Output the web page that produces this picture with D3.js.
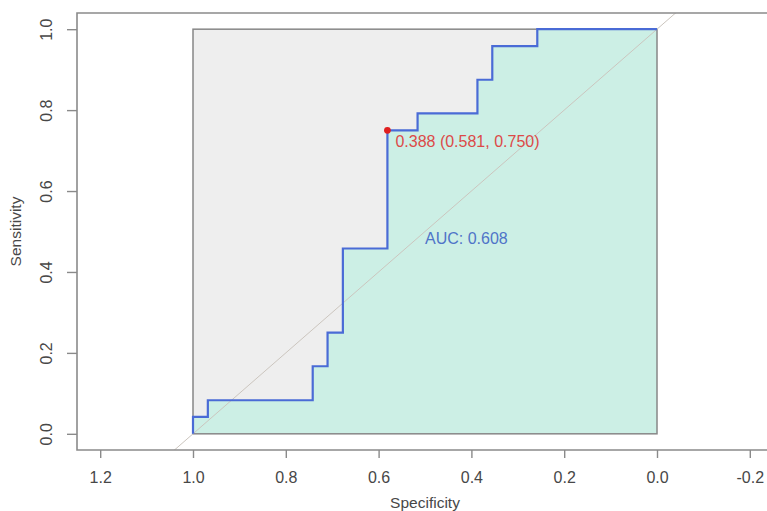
<!DOCTYPE html>
<html>
<head>
<meta charset="utf-8">
<script src="https://cdn.jsdelivr.net/npm/d3@7"></script>
<style>
  html, body { margin: 0; padding: 0; background: #fff; }
  svg { display: block; font-family: "Liberation Sans", Arial, sans-serif; }
</style>
</head>
<body>
<svg id="chart" width="767" height="511"></svg>
<script>
// ROC curve steps (specificity, sensitivity)
const specificity = [1.000, 1.000, 0.968, 0.968, 0.742, 0.742, 0.710, 0.710, 0.677, 0.677,
                     0.581, 0.581, 0.516, 0.516, 0.387, 0.387, 0.355, 0.355, 0.258, 0.258, 0.000];
const sensitivity = [0.000, 0.042, 0.042, 0.083, 0.083, 0.167, 0.167, 0.250, 0.250, 0.458,
                     0.458, 0.750, 0.750, 0.792, 0.792, 0.875, 0.875, 0.958, 0.958, 1.000, 1.000];

// best threshold and area under curve
const bestThreshold = 0.388;
const bestSpec = 0.581;
const bestSens = 0.750;
const aucValue = 0.608;

const xTicks = [1.2, 1.0, 0.8, 0.6, 0.4, 0.2, 0.0, -0.2];
const yTicks = [0.0, 0.2, 0.4, 0.6, 0.8, 1.0];
const xTitle = "Specificity";
const yTitle = "Sensitivity";

const svg = d3.select("#chart");
const plot = { left: 77, right: 773, top: 13, bottom: 450 };

const x = d3.scaleLinear().domain([1.25, -0.25]).range([plot.left, plot.right]);
const y = d3.scaleLinear().domain([-0.04, 1.04]).range([plot.bottom, plot.top]);

// one decimal, plain hyphen for negatives
const fmt = v => v.toFixed(1);
const axisColor = "#8a8a8a";
const textColor = "#474747";

svg.append("defs").append("clipPath").attr("id", "plotClip")
  .append("rect")
  .attr("x", plot.left).attr("y", plot.top)
  .attr("width", plot.right - plot.left).attr("height", plot.bottom - plot.top);

const g = svg.append("g").attr("clip-path", "url(#plotClip)");

// maximal-AUC square
g.append("rect")
  .attr("x", x(1)).attr("y", y(1))
  .attr("width", x(0) - x(1)).attr("height", y(0) - y(1))
  .attr("fill", "#eeeeee");

// area under the ROC curve
const pts = specificity.map((s, i) => [s, sensitivity[i]]);
const polyPts = pts.concat([[0, 0], [1, 0]]);
g.append("path")
  .attr("d", d3.line().x(d => x(d[0])).y(d => y(d[1]))(polyPts) + "Z")
  .attr("fill", "#ccefe5");

// square outline
g.append("rect")
  .attr("x", x(1)).attr("y", y(1))
  .attr("width", x(0) - x(1)).attr("height", y(0) - y(1))
  .attr("fill", "none")
  .attr("stroke", "#878787")
  .attr("stroke-width", 1.5);

// chance diagonal
g.append("line")
  .attr("x1", x(1.3)).attr("y1", y(-0.3))
  .attr("x2", x(-0.3)).attr("y2", y(1.3))
  .attr("stroke", "#cbc5be")
  .attr("stroke-width", 1);

// ROC curve
g.append("path")
  .attr("d", d3.line().x(d => x(d[0])).y(d => y(d[1]))(pts))
  .attr("fill", "none")
  .attr("stroke", "#4a6bd6")
  .attr("stroke-width", 2.2)
  .attr("stroke-linejoin", "miter");

// best threshold point and label
g.append("circle")
  .attr("cx", x(bestSpec)).attr("cy", y(bestSens))
  .attr("r", 3.4)
  .attr("fill", "#e01f1f");

svg.append("text")
  .attr("x", x(bestSpec) + 8)
  .attr("y", y(bestSens) + 16.5)
  .attr("font-size", 16)
  .attr("fill", "#dc4a48")
  .text(`${bestThreshold.toFixed(3)} (${bestSpec.toFixed(3)}, ${bestSens.toFixed(3)})`);

// AUC label
svg.append("text")
  .attr("x", x(0.5))
  .attr("y", y(0.5) + 12.5)
  .attr("font-size", 16)
  .attr("fill", "#4f74c8")
  .text(`AUC: ${aucValue.toFixed(3)}`);

// frame (left, top, bottom)
svg.append("path")
  .attr("d", `M${plot.right},${plot.top}H${plot.left}V${plot.bottom}H${plot.right}`)
  .attr("fill", "none")
  .attr("stroke", axisColor)
  .attr("stroke-width", 1.6);

// x axis
const xAxis = svg.append("g")
  .attr("transform", `translate(0,${plot.bottom})`)
  .call(d3.axisBottom(x).tickValues(xTicks).tickFormat(fmt).tickSize(8).tickPadding(14));
xAxis.select(".domain").remove();
xAxis.selectAll("line").attr("stroke", axisColor).attr("stroke-width", 1.4);
xAxis.selectAll("text").attr("font-size", 16).attr("fill", textColor).attr("font-family", null);

// y axis
const yAxis = svg.append("g")
  .attr("transform", `translate(${plot.left},0)`)
  .call(d3.axisLeft(y).tickValues(yTicks).tickFormat(fmt).tickSize(10).tickPadding(0));
yAxis.select(".domain").remove();
yAxis.selectAll("line").attr("stroke", axisColor).attr("stroke-width", 1.4);
yAxis.selectAll("text")
  .attr("font-size", 16).attr("fill", textColor).attr("font-family", null)
  .attr("text-anchor", "middle")
  .attr("x", null)
  .attr("transform", "translate(-31,0) rotate(-90)")
  .attr("y", 0)
  .attr("dy", "0.35em");

// axis titles
svg.append("text")
  .attr("x", (plot.left + plot.right) / 2)
  .attr("y", 508)
  .attr("text-anchor", "middle")
  .attr("font-size", 15.5)
  .attr("fill", textColor)
  .text(xTitle);

svg.append("text")
  .attr("transform", `translate(21,${(plot.top + plot.bottom) / 2}) rotate(-90)`)
  .attr("text-anchor", "middle")
  .attr("font-size", 15.5)
  .attr("fill", textColor)
  .text(yTitle);
</script>
</body>
</html>
